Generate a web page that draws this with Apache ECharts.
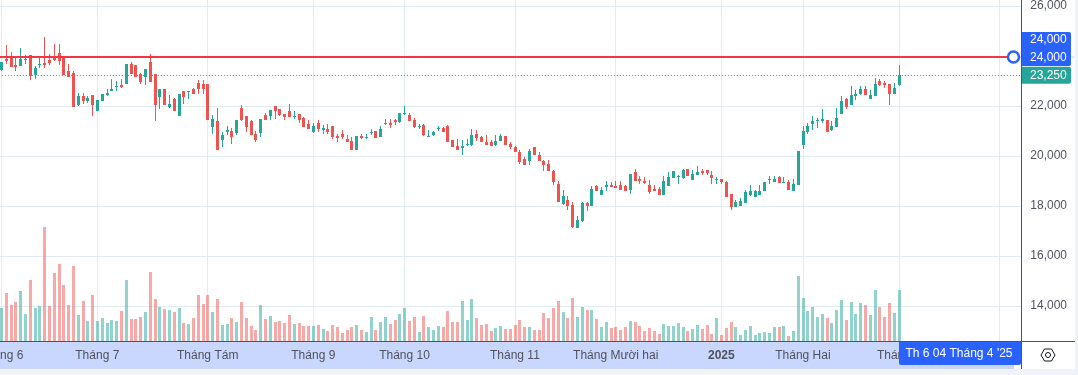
<!DOCTYPE html>
<html>
<head>
<meta charset="utf-8">
<title>Chart</title>
<style>
    html, body { margin: 0; padding: 0; background: #fff; }
    #chart { width: 1078px; height: 375px; }
</style>
<script src="https://cdn.jsdelivr.net/npm/echarts@6/dist/echarts.min.js"></script>
</head>
<body>
<div id="chart"></div>
<script>
    // daily candles
    const opens = [23440,23870,23950,23640,23600,23850,24030,23230,23650,23720,23840,23950,24120,23960,23400,23320,22040,22400,22200,22440,21800,22200,22440,22600,22770,22840,22880,23680,23640,23280,23160,23760,23280,22360,22680,21960,22280,21600,22600,22570,22680,22920,22880,22880,21160,21400,20640,20960,21000,20920,
        21920,21600,21400,20880,20920,21640,21600,22000,21880,21680,21800,21570,21680,21520,21280,20960,21320,21040,21080,21200,20800,20880,20680,20600,20240,20800,20730,20920,21000,20760,21290,21320,21440,21360,21680,21640,21440,21160,21240,20760,20840,21080,21120,21200,20640,20400,20320,20440,
        20440,20880,20760,20560,20560,20440,20600,20800,20480,20360,20160,19880,19800,20360,20040,19800,19680,19400,18880,18080,18240,18040,17120,17400,18120,18000,18800,18440,18760,18840,18800,18840,18800,18640,19360,19080,19000,18840,18680,18680,18440,18800,19120,19170,19120,19480,
        19040,19240,19400,19440,19240,19070,19080,18960,18480,17960,18000,18120,18440,18360,18440,18600,19060,18960,19160,18920,18960,18600,18840,20440,20960,21280,21400,21400,21440,21040,21160,21680,22280,22040,22400,22480,22680,22280,22400,23000,22920,22880,22480,22840];
    const highs = [23760,24440,24150,23910,24320,24040,24030,23600,23920,24760,24080,24480,24480,23960,23680,23400,22520,22520,22400,22440,22240,22480,22680,23080,23000,23080,23680,23760,23640,23320,23480,24080,23280,22680,22680,22440,22320,22480,22600,22600,22720,23040,23040,22880,21640,21920,20960,21200,21120,21440,
        22040,21600,21440,21000,21480,21720,21840,22000,21880,21680,22080,21800,21680,21560,21440,21320,21440,21240,21280,21200,20880,21040,20840,20760,20800,20880,20880,21080,21000,21200,21480,21480,21480,21720,22000,21720,21520,21280,21280,21040,21000,21200,21160,21240,20640,20680,20640,20680,
        21080,21040,20800,20840,20640,20840,20880,20800,20560,20400,20240,19960,20280,20360,20160,19840,19840,19440,19000,18640,18400,18160,17600,18160,18160,18800,18840,18760,19000,18960,19000,19000,18840,19280,19480,19200,19160,19040,18840,18760,19200,19360,19400,19240,19480,19480,
        19440,19600,19480,19440,19400,19160,19080,19000,18480,18240,18320,18640,18840,18640,18840,18960,19200,19200,19200,19160,19040,19080,20200,21200,21320,21600,21520,21880,21440,21400,21920,22400,22320,22800,22640,22800,22800,22640,23120,23080,23000,22880,22920,23640];
    const lows = [23400,23680,23570,23400,23600,23680,23040,23080,23530,23510,23640,23800,23640,23240,23160,21960,22000,22080,22120,21600,21800,22200,22400,22600,22600,22720,22880,23280,23160,22880,22840,22960,21400,21880,22040,21920,21800,21600,22080,22280,22480,22480,22480,21440,20880,20240,20360,20840,20480,20840,
        21400,20960,20840,20560,20760,21440,21440,21480,21600,21440,21560,21480,21320,21160,21080,20920,20960,20880,20880,20680,20560,20680,20560,20240,20240,20680,20680,20840,20720,20760,21240,21120,21240,21320,21640,21400,21120,21080,20800,20760,20800,21000,20960,20560,20360,20240,20040,20400,
        20400,20600,20560,20440,20400,20400,20600,20440,20280,20160,19680,19640,19640,20040,19800,19400,19400,18840,18160,18040,17840,17120,17120,17360,17800,18000,18600,18440,18600,18760,18720,18640,18600,18480,19000,18880,18880,18480,18600,18440,18440,18800,19120,18880,19080,19200,
        19040,19240,19240,19240,18880,18880,18880,18360,17840,17960,18000,18120,18400,18360,18440,18600,18880,18960,18920,18920,18640,18600,18840,20280,20880,21040,21120,21320,20960,21000,21160,21680,21880,22040,22240,22440,22440,22280,22400,22800,22720,22040,22480,22800];
    const closes = [23760,23800,23570,23570,23880,23880,23200,23520,23680,23640,23720,23840,23800,23240,23160,21960,22400,22200,22310,22040,22240,22480,22520,22680,22800,22760,23680,23280,23160,22960,23480,22960,22040,22680,22040,22080,21800,22480,22360,22600,22480,22680,22680,21440,21480,20240,20840,21040,20760,21440,
        21440,21160,20840,20640,21480,21440,21840,21800,21640,21560,21560,21600,21440,21160,21080,21200,21080,21120,20960,20760,20720,20760,20560,20240,20800,20720,20760,20960,20720,21080,21320,21240,21360,21720,21720,21400,21160,21200,20840,20800,20960,21120,20960,20560,20360,20240,20400,20480,
        20840,20720,20560,20440,20400,20600,20800,20440,20360,20160,19760,19640,20200,20040,19800,19640,19400,18960,18160,18400,18000,17160,17440,18120,18000,18680,18600,18640,18840,18760,18720,18640,18600,19280,19000,19000,18920,18560,18600,18440,19000,19160,19400,19200,19440,19200,
        19280,19360,19320,19320,19120,19090,18960,18360,17960,18160,18200,18560,18600,18600,18600,18960,19080,19080,18920,18960,18640,18880,20200,21000,21200,21400,21440,21480,20960,21200,21520,22200,21960,22440,22480,22680,22440,22440,22880,22840,22840,22480,22720,23250];
    // traded volume per day, relative units
    const volumes = [33,48,36,39,50,27,61,33,35,114,35,68,77,56,36,75,26,40,20,46,20,23,18,21,20,30,61,22,22,24,29,69,42,34,32,31,29,33,18,17,23,46,37,46,29,42,16,17,23,19,39,23,15,11,36,22,25,19,20,18,26,17,18,
        15,15,15,16,12,10,16,14,8,11,14,16,11,9,24,11,19,24,17,21,27,33,20,24,9,25,14,11,15,14,30,19,19,40,21,42,23,16,17,10,13,15,12,12,16,21,14,14,11,11,28,23,33,40,29,23,43,24,34,31,31,22,14,
        19,13,14,11,14,20,19,15,10,13,10,7,17,15,15,18,14,10,12,16,12,16,7,23,6,13,19,14,6,11,15,6,8,9,8,14,14,15,5,10,65,43,30,34,24,27,23,18,31,41,21,39,27,38,36,26,51,34,24,38,28,51];
    // sessions that open a month on the time scale
    const monthDates = ['2024-06-03','2024-07-01','2024-08-01','2024-09-04','2024-10-01','2024-11-01','2024-12-02','2025-01-02','2025-02-03','2025-03-03','2025-04-01'];
    const monthLabels = ['Tháng 6','Tháng 7','Tháng Tám','Tháng 9','Tháng 10','Tháng 11','Tháng Mười hai','2025','Tháng Hai','Tháng 3','Tháng 4'];
    const closedDates = ['2024-09-02','2024-09-03','2025-01-01','2025-01-27','2025-01-28','2025-01-29','2025-01-30','2025-01-31'];
    const alertPrice = 24000;
    const lastPrice = 23250;
    const cursorLabel = "Th 6 04 Tháng 4 '25";

    // trading calendar, runs past the last candle into the empty right side
    const slotCount = 213;
    const categories = [];
    const day = new Date(Date.UTC(2024, 5, 3));
    while (categories.length < slotCount) {
        const s = day.toISOString().slice(0, 10);
        const wd = day.getUTCDay();
        if (wd !== 0 && wd !== 6 && closedDates.indexOf(s) < 0) categories.push(s);
        day.setUTCDate(day.getUTCDate() + 1);
    }

    const fontName = '"Liberation Sans", sans-serif';
    const textColor = '#50535E';
    const gridColor = '#E1ECF2';
    const upColor = '#26A69A';
    const downColor = '#EF5350';
    const blue = '#2962FF';
    const isMonth = (i, name) => monthDates.indexOf(name) >= 0;
    // band is 4.8px wide, snap marks to whole pixels so they stay crisp
    const wickX = (x) => Math.round(x - 0.3);

    const chart = echarts.init(document.getElementById('chart'));
    chart.setOption({
        animation: false,
        backgroundColor: '#fff',
        grid: [
            { left: -1.1, width: 1022.4, top: -44, height: 400, outerBoundsMode: 'none' },
            { left: -1.1, width: 1022.4, top: 221, height: 120, outerBoundsMode: 'none' },
        ],
        xAxis: [{
            type: 'category',
            gridIndex: 0,
            data: categories,
            axisLine: { show: false },
            axisTick: { show: false },
            axisLabel: { show: false },
            splitLine: {
                show: true,
                alignWithLabel: true,
                interval: isMonth,
                lineStyle: { color: gridColor, width: 1 },
            },
        }, {
            type: 'category',
            gridIndex: 1,
            data: categories,
            z: 6,
            axisLine: { show: false },
            axisTick: { show: false },
            splitLine: { show: false },
            axisLabel: {
                interval: isMonth,
                margin: 9,
                color: textColor,
                fontFamily: fontName,
                fontSize: 12,
                hideOverlap: false,
                formatter: (name) => {
                    const label = monthLabels[monthDates.indexOf(name)];
                    return label === '2025' ? `{y|${label}}` : label;
                },
                rich: { y: { fontFamily: fontName, fontSize: 12, fontWeight: 'bold', color: textColor } },
            },
        }],
        yAxis: [{
            type: 'value',
            gridIndex: 0,
            position: 'right',
            min: 12000,
            max: 28000,
            interval: 2000,
            axisLine: { show: false },
            axisTick: { show: false },
            splitLine: { lineStyle: { color: gridColor, width: 1 } },
            axisLabel: {
                margin: 9,
                padding: [2, 0, 0, 0],
                color: textColor,
                fontFamily: fontName,
                fontSize: 12,
                showMinLabel: false,
            },
        }, {
            type: 'value',
            gridIndex: 1,
            min: 0,
            max: 120,
            show: false,
        }],
        series: [{
            type: 'custom',
            xAxisIndex: 1,
            yAxisIndex: 1,
            encode: { x: 0, y: 1 },
            data: volumes.map((v, i) => [i, v, closes[i] >= opens[i] ? 1 : 0]),
            renderItem: (params, api) => {
                const top = api.coord([api.value(0), api.value(1)]);
                const base = api.coord([api.value(0), 0]);
                return {
                    type: 'rect',
                    shape: { x: wickX(top[0]) - 1, y: Math.round(top[1]), width: 3, height: Math.round(base[1] - top[1]) },
                    style: { fill: api.value(2) ? 'rgba(38,166,154,0.5)' : 'rgba(239,83,80,0.5)' },
                };
            },
        }, {
            type: 'custom',
            xAxisIndex: 0,
            yAxisIndex: 0,
            encode: { x: 0, y: [1, 2, 3, 4] },
            data: opens.map((o, i) => [i, o, closes[i], lows[i], highs[i]]),
            renderItem: (params, api) => {
                const i = api.value(0);
                const o = api.value(1);
                const c = api.value(2);
                const x = wickX(api.coord([i, o])[0]);
                const bodyTop = Math.round(api.coord([i, Math.max(o, c)])[1]);
                const bodyBottom = Math.round(api.coord([i, Math.min(o, c)])[1]);
                const wickTop = Math.round(api.coord([i, api.value(4)])[1]);
                const wickBottom = Math.round(api.coord([i, api.value(3)])[1]);
                const fill = c >= o ? upColor : downColor;
                return {
                    type: 'group',
                    children: [
                        { type: 'rect', shape: { x: x, y: wickTop, width: 1, height: Math.max(1, wickBottom - wickTop) }, style: { fill } },
                        { type: 'rect', shape: { x: x - 1, y: bodyTop, width: 3, height: Math.max(1, bodyBottom - bodyTop) }, style: { fill } },
                    ],
                };
            },
            markLine: {
                silent: true,
                symbol: 'none',
                label: { show: false },
                lineStyle: { color: upColor, width: 1, type: [1, 2] },
                data: [{ yAxis: lastPrice }],
            },
        }],
    });

    // overlays placed from the price scale
    const alertY = chart.convertToPixel({ yAxisIndex: 0 }, alertPrice);
    const lastY = chart.convertToPixel({ yAxisIndex: 0 }, lastPrice);
    const tagText = (y, t) => ({
        type: 'text', z: 102, x: 1030, y: y,
        style: { text: t, fill: '#fff', font: `12px ${fontName}`, verticalAlign: 'middle' },
    });
    chart.setOption({
        graphic: [
            // time scale strip and frame
            { type: 'rect', z: 5, shape: { x: 0, y: 341, width: 1014, height: 28 }, style: { fill: '#C9D7FF' } },
            { type: 'rect', z: 5, shape: { x: 1014, y: 342, width: 7, height: 27 }, style: { fill: '#fff' } },
            { type: 'rect', z: 5, shape: { x: 1022, y: 342, width: 53, height: 27 }, style: { fill: '#fff' } },
            { type: 'rect', z: 5, shape: { x: 0, y: 369, width: 1078, height: 6 }, style: { fill: '#F0F3FA' } },
            { type: 'rect', z: 5, shape: { x: 1075, y: 0, width: 3, height: 375 }, style: { fill: '#F0F3FA' } },
            { type: 'rect', z: 50, shape: { x: 0, y: 341, width: 1075, height: 1 }, style: { fill: textColor } },
            { type: 'rect', z: 50, shape: { x: 1021, y: 0, width: 1, height: 369 }, style: { fill: textColor } },
            // alert line with its handle
            { type: 'rect', z: 60, shape: { x: 0, y: alertY, width: 1013, height: 2 }, style: { fill: '#F23645' } },
            { type: 'circle', z: 61, shape: { cx: 1013.5, cy: alertY + 1, r: 5.5 }, style: { fill: '#fff', stroke: blue, lineWidth: 2.5 } },
            // price tags
            { type: 'rect', z: 100, shape: { x: 1022, y: alertY - 24, width: 49, height: 34, r: [0, 2, 2, 0] }, style: { fill: blue } },
            { type: 'rect', z: 100, shape: { x: 1071, y: alertY + 0.5, width: 4, height: 1 }, style: { fill: '#C9D7FF' } },
            tagText(alertY - 16, alertPrice.toLocaleString('en-US')),
            tagText(alertY + 2, alertPrice.toLocaleString('en-US')),
            { type: 'rect', z: 100, shape: { x: 1022, y: lastY - 8, width: 49, height: 17, r: [0, 2, 2, 0] }, style: { fill: upColor } },
            tagText(lastY + 1, lastPrice.toLocaleString('en-US')),
            // crosshair date tag
            { type: 'rect', z: 100, shape: { x: 899, y: 342, width: 122, height: 23, r: [0, 0, 2, 2] }, style: { fill: blue } },
            { type: 'text', z: 102, x: 959, y: 354, style: { text: cursorLabel, fill: '#fff', font: `12px ${fontName}`, align: 'center', verticalAlign: 'middle' } },
            // settings button
            { type: 'polygon', z: 100, shape: { points: [[1041, 355], [1044.5, 349], [1051.5, 349], [1055, 355], [1051.5, 361], [1044.5, 361]] }, style: { fill: '#fff', stroke: '#131722', lineWidth: 1 } },
            { type: 'circle', z: 101, shape: { cx: 1048, cy: 355, r: 2.5 }, style: { fill: '#fff', stroke: '#131722', lineWidth: 1 } },
        ],
    });
</script>
</body>
</html>
